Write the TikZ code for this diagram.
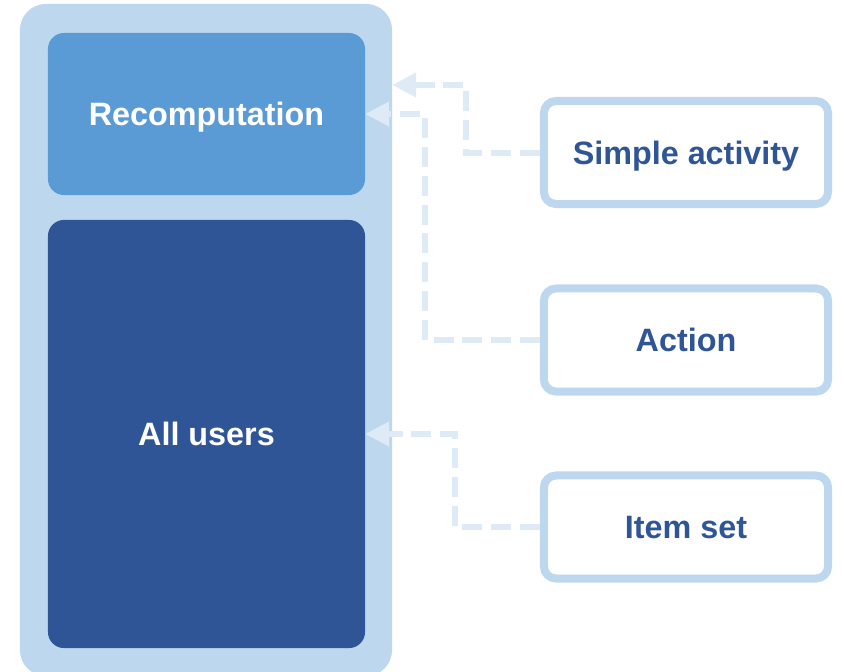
\documentclass[tikz,border=0pt]{standalone}
\usepackage{fontspec}
\setmainfont{Liberation Sans}
\usetikzlibrary{arrows.meta}

\definecolor{paleblue}{HTML}{BDD7EE}
\definecolor{midblue}{HTML}{5B9BD5}
\definecolor{darkblue}{HTML}{2F5597}
\definecolor{linkblue}{HTML}{DEEBF7}

\begin{document}
\begin{tikzpicture}[x=0.025cm, y=-0.025cm,
  every node/.style={font=\fontsize{23}{27}\selectfont\bfseries, inner sep=0pt, outer sep=0pt, text depth=0pt},
  inner/.style={rectangle, rounded corners=0.4cm, text=white, minimum width=7.925cm},
  source/.style={rectangle, rounded corners=0.3cm, draw=paleblue, line width=0.2cm, fill=white, text=darkblue, minimum width=7.1cm, minimum height=2.575cm, outer sep=0.1cm},
  link/.style={draw=linkblue, line width=0.15cm, dash pattern=on 0.5cm off 0.22cm, -{Triangle[length=0.6cm, width=0.58cm]}}]
\useasboundingbox (0,0) rectangle (844,672);
\node[rectangle, rounded corners=0.65cm, fill=paleblue, minimum width=9.3cm, minimum height=16.8cm] (outer) at (206,340) {};
\node[inner, fill=midblue, minimum height=4.05cm] (recomp) at (206.5,114) {Recomputation};
\node[inner, fill=darkblue, minimum height=10.7cm] (users) at (206.5,434) {All users};
\node[source] (simple) at (686,152.5) {Simple activity};
\node[source] (action) at (686,340) {Action};
\node[source] (itemset) at (686,527) {Item set};
\draw[link] (simple.west) -- ++(-74,0) |- (outer.east |- 0,85);
\draw[link] (action.west) -- ++(-115,0) |- (recomp.east);
\draw[link] (itemset.west) -- ++(-85,0) |- (users.east);
\end{tikzpicture}
\end{document}
